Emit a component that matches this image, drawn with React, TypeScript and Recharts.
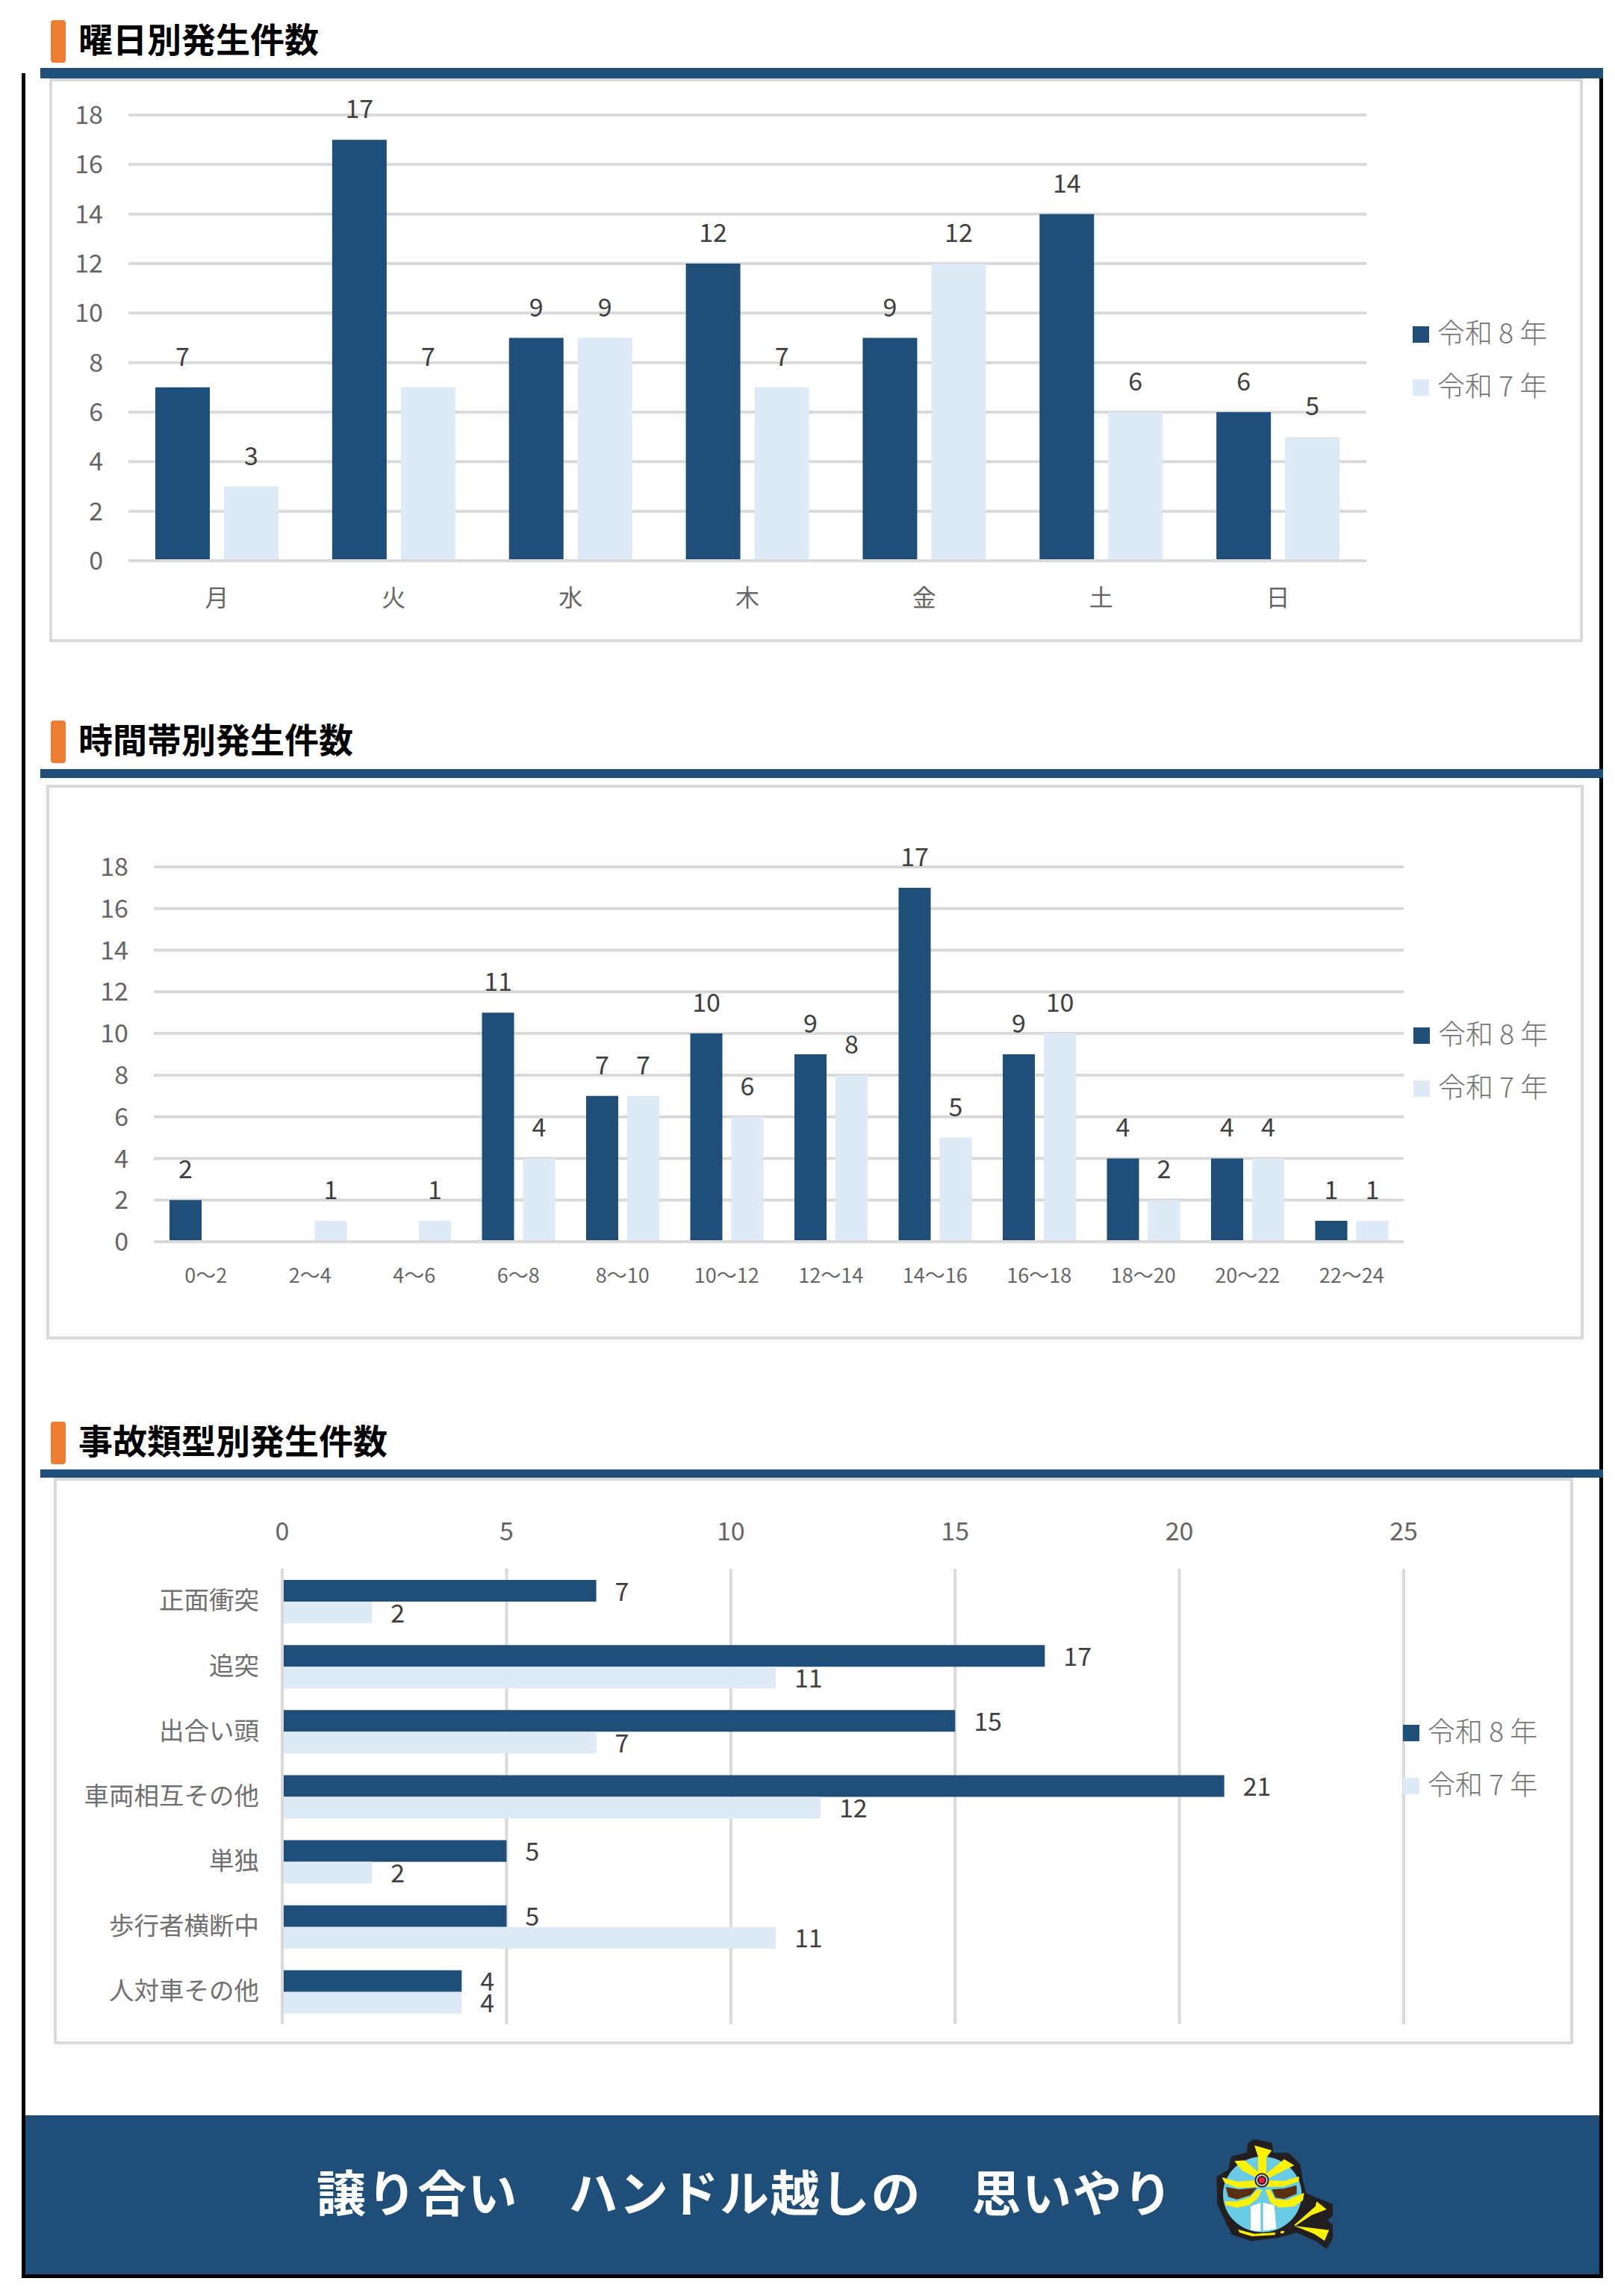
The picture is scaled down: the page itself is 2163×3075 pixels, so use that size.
import { Bar, BarChart, CartesianGrid, LabelList, XAxis, YAxis } from "recharts";

const FONT = '"Noto Sans CJK JP", "Noto Sans", sans-serif';
const DARK = "#1f4e79";
const LIGHT = "#deeaf6";
const GRID = "#d9d9d9";
const AXIS_TEXT = "#666666";
const LABEL_TEXT = "#404040";

const SERIES_NAMES = ["令和 8 年", "令和 7 年"];

const WEEKDAYS = ["月", "火", "水", "木", "金", "土", "日"];
const WEEKDAY_R8 = [7, 17, 9, 12, 9, 14, 6];
const WEEKDAY_R7 = [3, 7, 9, 7, 12, 6, 5];

const HOURS = ["0〜2", "2〜4", "4〜6", "6〜8", "8〜10", "10〜12", "12〜14", "14〜16", "16〜18", "18〜20", "20〜22", "22〜24"];
const HOUR_R8 = [2, null, null, 11, 7, 10, 9, 17, 9, 4, 4, 1];
const HOUR_R7 = [null, 1, 1, 4, 7, 6, 8, 5, 10, 2, 4, 1];

const ACCIDENT_TYPES = ["正面衝突", "追突", "出合い頭", "車両相互その他", "単独", "歩行者横断中", "人対車その他"];
const ACCIDENT_R8 = [7, 17, 15, 21, 5, 5, 4];
const ACCIDENT_R7 = [2, 11, 7, 12, 2, 11, 4];

const COUNT_TICKS = [0, 2, 4, 6, 8, 10, 12, 14, 16, 18];
const ACCIDENT_TICKS = [0, 5, 10, 15, 20, 25];

const toRows = (names: string[], r8: (number | null)[], r7: (number | null)[]) =>
  names.map((name, i) => ({ name, r8: r8[i], r7: r7[i] }));

const abs = (left: number, top: number, width: number, height: number) =>
  ({ position: "absolute", left, top, width, height } as const);

function Heading({ top, text }: { top: number; text: string }) {
  return (
    <>
      <div style={{ ...abs(68, top, 20, 57), background: "#ed7d31", borderRadius: 4 }} />
      <div
        style={{
          position: "absolute",
          left: 105,
          top: top - 4,
          fontFamily: FONT,
          fontWeight: 700,
          fontSize: 46,
          lineHeight: "54px",
          color: "#000",
          whiteSpace: "nowrap",
        }}
      >
        {text}
      </div>
    </>
  );
}

function Frame({ left, top, right, bottom }: { left: number; top: number; right: number; bottom: number }) {
  return (
    <div
      style={{
        ...abs(left, top, right - left, bottom - top),
        boxSizing: "border-box",
        border: `4px solid ${GRID}`,
        background: "#fff",
      }}
    />
  );
}

function YearLegend({ left, top }: { left: number; top: number }) {
  return (
    <>
      {SERIES_NAMES.map((name, i) => (
        <div key={name} style={{ position: "absolute", left, top: top + i * 71 }}>
          <div style={{ ...abs(0, 0, 22, 22), background: i === 0 ? DARK : LIGHT }} />
          <div
            style={{
              position: "absolute",
              left: 33,
              top: -20,
              fontFamily: FONT,
              fontWeight: 300,
              fontSize: 37,
              lineHeight: "54px",
              color: "#757575",
              whiteSpace: "nowrap",
            }}
          >
            {name}
          </div>
        </div>
      ))}
    </>
  );
}

function Mascot() {
  return (
    <svg style={abs(1620, 2855, 175, 165)} viewBox="0 0 525 495">
      <path
        d="M160 50 L180 38 L245 50 L250 92 L315 92 L358 135 L368 200 L382 252 L428 272 L488 295 L488 335 L462 355 L488 378 L488 428 L468 462 L438 438 L350 398 L280 418 L170 432 L95 408 L68 355 L38 290 L35 185 L82 155 L92 105 L155 90 Z"
        fill="#231f20"
        stroke="#231f20"
        strokeWidth={14}
        strokeLinejoin="round"
      />
      <ellipse cx={212} cy={252} rx={158} ry={152} fill="#69cbe5" />
      <path d="M65 222 L120 232 L190 225 L165 255 L110 272 L75 262 Z" fill="#5a3012" />
      <path d="M250 232 L300 228 L350 215 L350 250 L300 270 L265 265 Z" fill="#5a3012" />
      <path d="M165 300 L205 285 L205 400 L165 395 Z" fill="#fff" />
      <path d="M215 285 L260 295 L268 390 L215 398 Z" fill="#fff" />
      <g fill="#fff200">
        <path d="M180 55 L250 75 L228 105 L228 175 L195 175 L195 100 Z" />
        <path d="M100 118 L140 115 L205 170 L190 185 L130 155 Z" />
        <path d="M300 110 L340 135 L310 150 L240 185 L225 170 L270 135 Z" />
        <path d="M50 183 L110 200 L190 195 L195 222 L110 225 L60 205 Z" />
        <path d="M360 180 L300 198 L235 195 L230 222 L300 220 L358 200 Z" />
        <path d="M60 280 L110 280 L160 265 L195 230 L210 235 L195 265 L160 295 L110 305 L65 295 Z" />
        <path d="M225 235 L240 230 L265 270 L310 275 L380 245 L375 275 L340 300 L280 305 L245 285 Z" />
        <path d="M340 375 L425 300 L430 280 L470 312 L410 335 L345 378 Z" />
        <path d="M340 378 L480 395 L462 438 L420 410 Z" />
        <path d="M115 393 L180 410 L265 405 L262 415 L170 420 L120 405 Z" />
        <path d="M285 400 L300 398 L298 408 L285 408 Z" />
      </g>
      <circle cx={210} cy={195} r={29} fill="#231f20" />
      <circle cx={210} cy={195} r={23} fill="#d8d8d8" />
      <circle cx={210} cy={195} r={18} fill="#231f20" />
      <circle cx={210} cy={195} r={12} fill="#ed1c3c" />
    </svg>
  );
}

const axisTick = (fontSize: number, fill = AXIS_TEXT) => ({ fontSize, fontFamily: FONT, fill });

function ColumnPanel({
  rows,
  left,
  top,
  width,
  height,
  plotLeft,
  plotTop,
  plotRight,
  plotBottom,
  barSize,
  barGap,
  xFont,
  xMargin,
}: {
  rows: { name: string; r8: number | null; r7: number | null }[];
  left: number;
  top: number;
  width: number;
  height: number;
  plotLeft: number;
  plotTop: number;
  plotRight: number;
  plotBottom: number;
  barSize: number;
  barGap: number;
  xFont: number;
  xMargin: number;
}) {
  const yWidth = plotLeft - left - 10;
  const xHeight = 70;
  return (
    <div style={abs(left, top, width, height)}>
      <BarChart
        width={width}
        height={height}
        data={rows}
        barSize={barSize}
        barGap={barGap}
        margin={{
          left: 10,
          top: plotTop - top,
          right: left + width - plotRight,
          bottom: top + height - plotBottom - xHeight,
        }}
      >
        <CartesianGrid vertical={false} stroke={GRID} strokeWidth={4} />
        <XAxis
          dataKey="name"
          height={xHeight}
          interval={0}
          tickSize={0}
          tickMargin={xMargin}
          axisLine={{ stroke: GRID, strokeWidth: 4 }}
          tickLine={false}
          tick={axisTick(xFont)}
        />
        <YAxis
          type="number"
          domain={[0, 18]}
          ticks={COUNT_TICKS}
          interval={0}
          width={yWidth}
          tickSize={0}
          tickMargin={34}
          axisLine={false}
          tickLine={false}
          tick={axisTick(34)}
        />
        <Bar dataKey="r8" fill={DARK} isAnimationActive={false}>
          <LabelList dataKey="r8" position="top" offset={29} fill={LABEL_TEXT} fontSize={34} fontFamily={FONT} />
        </Bar>
        <Bar dataKey="r7" fill={LIGHT} isAnimationActive={false}>
          <LabelList dataKey="r7" position="top" offset={29} fill={LABEL_TEXT} fontSize={34} fontFamily={FONT} />
        </Bar>
      </BarChart>
    </div>
  );
}

function AccidentPanel() {
  const left = 72;
  const top = 1982;
  const width = 2035;
  const height = 756;
  const yWidth = 296;
  const xHeight = 60;
  return (
    <div style={abs(left, top, width, height)}>
      <BarChart
        layout="vertical"
        width={width}
        height={height}
        data={toRows(ACCIDENT_TYPES, ACCIDENT_R8, ACCIDENT_R7)}
        barSize={29}
        barGap={0}
        margin={{ left: 378 - left - yWidth, top: 2101 - top - xHeight, right: left + width - 1880, bottom: top + height - 2711 }}
      >
        <CartesianGrid horizontal={false} stroke={GRID} strokeWidth={4} />
        <XAxis
          type="number"
          orientation="top"
          domain={[0, 25]}
          ticks={ACCIDENT_TICKS}
          interval={0}
          height={xHeight}
          tickSize={0}
          tickMargin={38}
          axisLine={false}
          tickLine={false}
          tick={axisTick(34)}
        />
        <YAxis
          type="category"
          dataKey="name"
          width={yWidth}
          interval={0}
          tickSize={0}
          tickMargin={31}
          axisLine={{ stroke: GRID, strokeWidth: 4 }}
          tickLine={false}
          tick={{ ...axisTick(33.5, "#707070"), dy: -1 }}
        />
        <Bar dataKey="r8" fill={DARK} isAnimationActive={false}>
          <LabelList dataKey="r8" position="right" offset={25} dy={1} fill={LABEL_TEXT} fontSize={34} fontFamily={FONT} />
        </Bar>
        <Bar dataKey="r7" fill={LIGHT} isAnimationActive={false}>
          <LabelList dataKey="r7" position="right" offset={25} dy={1} fill={LABEL_TEXT} fontSize={34} fontFamily={FONT} />
        </Bar>
      </BarChart>
    </div>
  );
}

export default function App() {
  return (
    <div style={{ ...abs(0, 0, 2163, 3075), background: "#fff", overflow: "hidden" }}>
      {/* page border */}
      <div style={{ ...abs(29, 98, 5, 2953), background: "#000" }} />
      <div style={{ ...abs(2142, 98, 5, 2953), background: "#000" }} />
      <div style={{ ...abs(29, 3046, 2118, 5), background: "#000" }} />

      <Heading top={27} text="曜日別発生件数" />
      <div style={{ ...abs(54, 91, 2093, 14), background: DARK }} />
      <Frame left={66} top={105} right={2120} bottom={860} />
      <ColumnPanel
        rows={toRows(WEEKDAYS, WEEKDAY_R8, WEEKDAY_R7)}
        left={66}
        top={105}
        width={2054}
        height={755}
        plotLeft={172}
        plotTop={154}
        plotRight={1830}
        plotBottom={751}
        barSize={73}
        barGap={19}
        xFont={32}
        xMargin={38}
      />
      <YearLegend left={1892} top={437} />

      <Heading top={965} text="時間帯別発生件数" />
      <div style={{ ...abs(54, 1030, 2093, 12), background: DARK }} />
      <Frame left={62} top={1051} right={2121} bottom={1794} />
      <ColumnPanel
        rows={toRows(HOURS, HOUR_R8, HOUR_R7)}
        left={62}
        top={1051}
        width={2059}
        height={743}
        plotLeft={206}
        plotTop={1161}
        plotRight={1880}
        plotBottom={1663}
        barSize={43}
        barGap={12}
        xFont={27}
        xMargin={36}
      />
      <YearLegend left={1893} top={1376} />

      <Heading top={1904} text="事故類型別発生件数" />
      <div style={{ ...abs(54, 1968, 2093, 11), background: DARK }} />
      <Frame left={72} top={1979} right={2107} bottom={2738} />
      <AccidentPanel />
      <YearLegend left={1879} top={2310} />

      {/* footer band */}
      <div style={{ ...abs(34, 2833, 2108, 213), background: DARK }} />
      <div
        style={{
          position: "absolute",
          left: 424,
          top: 2888,
          fontFamily: FONT,
          fontWeight: 700,
          fontSize: 66,
          letterSpacing: 1.5,
          lineHeight: "90px",
          color: "#fff",
          whiteSpace: "nowrap",
        }}
      >
        譲り合い　ハンドル越しの　思いやり
      </div>
      <Mascot />
    </div>
  );
}
